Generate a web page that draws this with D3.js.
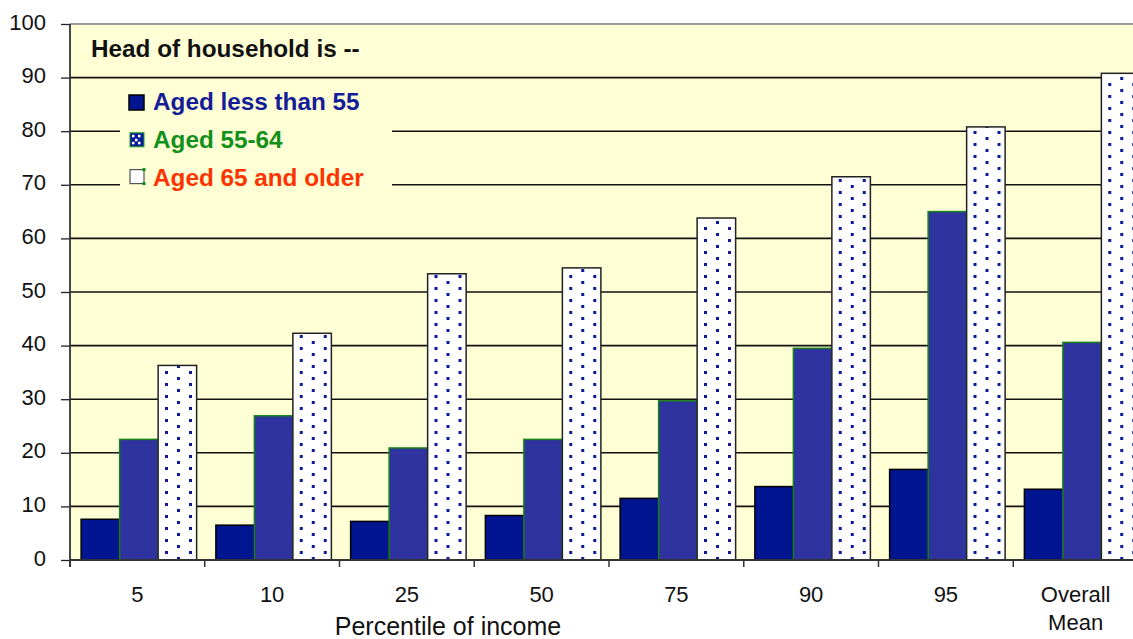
<!DOCTYPE html>
<html>
<head>
<meta charset="utf-8">
<script src="https://cdn.jsdelivr.net/npm/d3@7/dist/d3.min.js"></script>
<style>
  html, body { margin: 0; padding: 0; background: #ffffff; overflow: hidden; }
  svg { display: block; font-family: "Liberation Sans", Arial, sans-serif; }
</style>
</head>
<body>
<svg id="chart" width="1133" height="639"></svg>
<script>
// ---- data ----
const categories = ["5", "10", "25", "50", "75", "90", "95", "Overall Mean"];
const seriesNames = ["Aged less than 55", "Aged 55-64", "Aged 65 and older"];
const agedUnder55 = [7.6, 6.5, 7.2, 8.3, 11.5, 13.7, 16.9, 13.2];
const aged55to64 = [22.5, 26.9, 20.9, 22.5, 29.7, 39.5, 65.0, 40.6];
const aged65plus = [36.3, 42.3, 53.4, 54.5, 63.8, 71.5, 80.8, 90.8];
const yTicks = [0, 10, 20, 30, 40, 50, 60, 70, 80, 90, 100];
const legendTitle = "Head of household is --";
const xAxisTitle = "Percentile of income";

const seriesValues = [agedUnder55, aged55to64, aged65plus];

(function () {
// ---- layout ----
const mLeft = 70, mTop = 24, mBottom = 560;
const step = 134.75;
const mRight = mLeft + step * categories.length;

const svg = d3.select("#chart");

const x0 = d3.scaleBand().domain(categories).range([mLeft, mRight]).padding(0);
const x1 = d3.scaleBand().domain(seriesNames).range([1.5, x0.bandwidth() + 1.5]).paddingInner(0).paddingOuter(0.25);
const y = d3.scaleLinear().domain([0, 100]).range([mBottom, mTop]);

const fills = ["#00158f", "#2e33a0", "url(#dots)"];
const strokes = ["#000000", "#17801a", "#222222"];
const textColors = ["#141c98", "#12901a", "#ff3300"];

// pattern
const defs = svg.append("defs");
const pat = defs.append("pattern")
  .attr("id", "dots").attr("patternUnits", "userSpaceOnUse")
  .attr("width", 24).attr("height", 12).attr("x", 167).attr("y", 371);
pat.append("rect").attr("width", 24).attr("height", 12).attr("fill", "#ffffff");
pat.append("rect").attr("x", 0).attr("y", 0).attr("width", 3).attr("height", 3).attr("fill", "#0a1a9a");
pat.append("rect").attr("x", 12).attr("y", 6).attr("width", 3).attr("height", 3).attr("fill", "#0a1a9a");

// plot background
svg.append("rect")
  .attr("x", mLeft).attr("y", mTop)
  .attr("width", mRight - mLeft).attr("height", mBottom - mTop)
  .attr("fill", "#ffffd6");

// gridlines
svg.append("g").selectAll("line")
  .data(yTicks.filter(d => d > 0 && d < 100))
  .join("line")
  .attr("x1", mLeft).attr("x2", mRight)
  .attr("y1", d => y(d)).attr("y2", d => y(d))
  .attr("stroke", "#111").attr("stroke-width", 1.6);

// top border
svg.append("line")
  .attr("x1", mLeft).attr("x2", mRight).attr("y1", y(100)).attr("y2", y(100))
  .attr("stroke", "#9a9a9a").attr("stroke-width", 2);

// legend box covering gridlines
svg.append("rect")
  .attr("x", 120).attr("y", 88).attr("width", 272).attr("height", 106)
  .attr("fill", "#ffffd6");

// bars
const groups = svg.append("g").selectAll("g")
  .data(categories)
  .join("g")
  .attr("transform", d => `translate(${x0(d)},0)`);

groups.selectAll("rect")
  .data((c, ci) => seriesNames.map((s, si) => ({ s, si, v: seriesValues[si][ci] })))
  .join("rect")
  .attr("x", d => x1(d.s))
  .attr("y", d => y(d.v))
  .attr("width", x1.bandwidth())
  .attr("height", d => y(0) - y(d.v))
  .attr("fill", d => fills[d.si])
  .attr("stroke", d => strokes[d.si])
  .attr("stroke-width", 1.5);

// y axis
const yAxis = d3.axisLeft(y).tickValues(yTicks).tickSize(9).tickPadding(0).tickFormat(d3.format("d"));
const gy = svg.append("g").attr("transform", `translate(${mLeft},0)`).call(yAxis);
gy.select(".domain").remove();
gy.selectAll(".tick line").attr("stroke", "#222").attr("stroke-width", 1.3);
gy.selectAll(".tick text")
  .attr("x", -24).attr("dy", null).attr("y", 5)
  .attr("fill", "#111").attr("font-size", 22)
  .attr("font-family", "Liberation Sans, Arial, sans-serif");
svg.append("line")
  .attr("x1", mLeft).attr("x2", mLeft).attr("y1", mTop).attr("y2", mBottom + 7)
  .attr("stroke", "#333").attr("stroke-width", 1.8);

// x axis
svg.append("line")
  .attr("x1", mLeft).attr("x2", mRight).attr("y1", mBottom).attr("y2", mBottom)
  .attr("stroke", "#333").attr("stroke-width", 1.8);
svg.append("g").selectAll("line")
  .data(categories)
  .join("line")
  .attr("x1", d => x0(d)).attr("x2", d => x0(d))
  .attr("y1", mBottom).attr("y2", mBottom + 7)
  .attr("stroke", "#333").attr("stroke-width", 1.5);

const xl = svg.append("g").selectAll("text")
  .data(categories)
  .join("text")
  .attr("x", d => x0(d) + x0.bandwidth() / 2)
  .attr("y", 602)
  .attr("text-anchor", "middle")
  .attr("font-size", 22)
  .attr("fill", "#111");
xl.each(function (d) {
  const words = d.split(" ");
  const t = d3.select(this);
  const cx = x0(d) + x0.bandwidth() / 2 - (words.length > 1 ? 5 : 0);
  words.forEach((w, i) => {
    t.append("tspan")
      .attr("x", cx)
      .attr("dy", i === 0 ? 0 : 28)
      .text(w);
  });
});

// x axis title
svg.append("text")
  .attr("x", 448).attr("y", 635)
  .attr("text-anchor", "middle")
  .attr("font-size", 25)
  .attr("fill", "#111")
  .text(xAxisTitle);

// legend
svg.append("text")
  .attr("x", 91).attr("y", 57)
  .attr("font-size", 24.3).attr("font-weight", "bold")
  .attr("fill", "#111")
  .text(legendTitle);

const lg = svg.append("g").selectAll("g")
  .data(seriesNames)
  .join("g")
  .attr("transform", (d, i) => `translate(0,${110 + i * 37.8})`);

lg.append("text")
  .attr("x", 153).attr("y", 0)
  .attr("font-size", 24.3).attr("font-weight", "bold")
  .attr("fill", (d, i) => textColors[i])
  .text(d => d);

lg.each(function (d, i) {
  const g = d3.select(this);
  if (i === 0) {
    g.append("rect").attr("x", 129).attr("y", -15).attr("width", 15).attr("height", 15)
      .attr("fill", "#00158f").attr("stroke", "#000").attr("stroke-width", 1.5);
  } else if (i === 1) {
    g.append("rect").attr("x", 130).attr("y", -15).attr("width", 14).attr("height", 14)
      .attr("fill", "#0a1a9a").attr("stroke", "#17a01a").attr("stroke-width", 1);
    [[3, 3], [9, 3], [6, 7], [3, 10], [9, 10]].forEach(p => {
      g.append("rect").attr("x", 130 + p[0] - 1).attr("y", -15 + p[1] - 1)
        .attr("width", 2.5).attr("height", 2.5).attr("fill", "#ffffff");
    });
  } else {
    g.append("rect").attr("x", 130).attr("y", -16).attr("width", 14).attr("height", 14)
      .attr("fill", "#ffffff").attr("stroke", "#555").attr("stroke-width", 1.2);
    [[14, -16], [14, -2]].forEach(p => {
      g.append("rect").attr("x", 130 + p[0] - 1.5).attr("y", p[1] - 1.5)
        .attr("width", 3).attr("height", 3).attr("fill", "#0a8a1a");
    });
  }
});
})();
</script>
</body>
</html>
